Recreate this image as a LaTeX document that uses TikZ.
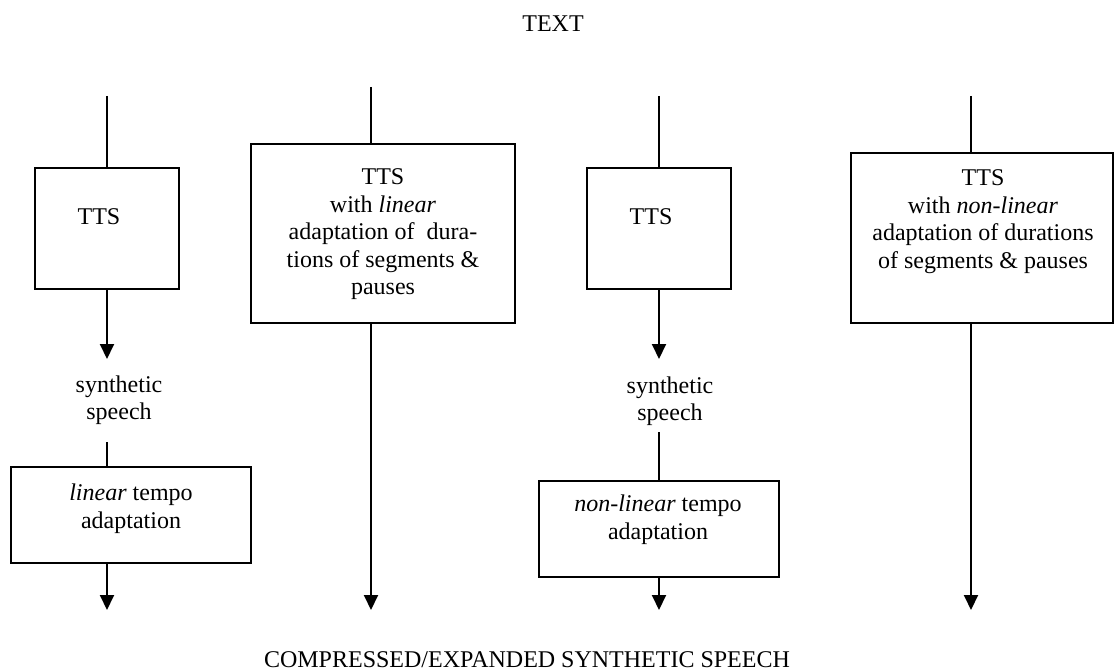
\documentclass[tikz,border=0pt]{standalone}
\usepackage{fontspec}
\setmainfont{Liberation Serif}
\usetikzlibrary{arrows.meta}
\begin{document}
\begin{tikzpicture}[x=1pt,y=-1pt,
  box/.style={draw, line width=2pt, inner sep=0pt, rectangle},
  lbl/.style={anchor=base, inner sep=0pt, font=\fontsize{24}{27.5}\selectfont},
  conn/.style={line width=2pt},
  arr/.style={line width=2pt, -{Triangle[width=14pt,length=15pt]}}]
\useasboundingbox (0,0) rectangle (1114,671);

% boxes
\node[box, minimum width=144pt, minimum height=121pt] (b1) at (107,228.5) {};
\node[box, minimum width=264pt, minimum height=179pt] (b2) at (383,233.5) {};
\node[box, minimum width=144pt, minimum height=121pt] (b3) at (659,228.5) {};
\node[box, minimum width=262pt, minimum height=170pt] (b4) at (982,238) {};
\node[box, minimum width=240pt, minimum height=96pt] (b5) at (131,515) {};
\node[box, minimum width=240pt, minimum height=96pt] (b6) at (659,529) {};

% texts
\node[lbl] (top) at (553,32) {TEXT};
\node[lbl] (t1) at (99,225) {TTS};
\node[lbl] (t2) at (383,185) {\begin{tabular}[t]{@{}c@{}}TTS\\with \textit{linear}\\adaptation of \ dura-\\tions of segments \&\\pauses\end{tabular}};
\node[lbl] (t3) at (651,225) {TTS};
\node[lbl] (t4) at (983,186) {\begin{tabular}[t]{@{}c@{}}TTS\\with \textit{non-linear}\\adaptation of durations\\of segments \& pauses\end{tabular}};
\node[lbl] (ss1) at (119,392) {\begin{tabular}[t]{@{}c@{}}synthetic\\speech\end{tabular}};
\node[lbl] (ss3) at (670,393) {\begin{tabular}[t]{@{}c@{}}synthetic\\speech\end{tabular}};
\node[lbl] (t5) at (131,500.5) {\begin{tabular}[t]{@{}c@{}}\textit{linear} tempo\\adaptation\end{tabular}};
\node[lbl] (t6) at (658,511.5) {\begin{tabular}[t]{@{}c@{}}\textit{non-linear} tempo\\adaptation\end{tabular}};
\node[lbl] (bot) at (527,667) {COMPRESSED/EXPANDED SYNTHETIC SPEECH};

% free ends
\coordinate (s1) at (107,96);
\coordinate (s2) at (371,87);
\coordinate (s3) at (659,96);
\coordinate (s4) at (971,96);
\coordinate (m1) at (107,359);
\coordinate (m3) at (659,359);
\coordinate (n1) at (107,442);
\coordinate (n3) at (659,432);
\coordinate (e1) at (107,610);
\coordinate (e2) at (371,610);
\coordinate (e3) at (659,610);
\coordinate (e4) at (971,610);

% connectors
\draw[conn] (s1) -- (b1.north);
\draw[arr] (b1.south) -- (m1);
\draw[conn] (n1) -- (b5.north -| n1);
\draw[arr] (b5.south -| n1) -- (e1);
\draw[conn] (s2) -- (b2.north -| s2);
\draw[arr] (b2.south -| s2) -- (e2);
\draw[conn] (s3) -- (b3.north);
\draw[arr] (b3.south) -- (m3);
\draw[conn] (n3) -- (b6.north);
\draw[arr] (b6.south) -- (e3);
\draw[conn] (s4) -- (b4.north -| s4);
\draw[arr] (b4.south -| s4) -- (e4);
\end{tikzpicture}
\end{document}
